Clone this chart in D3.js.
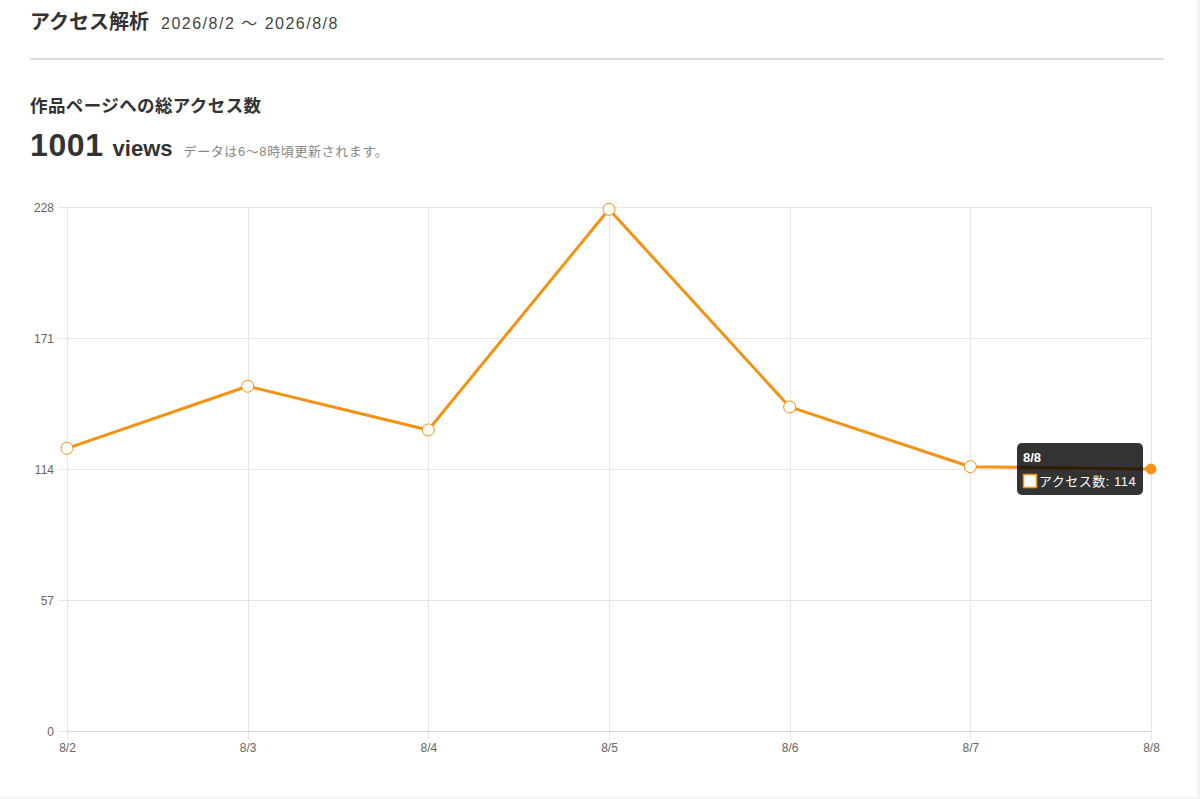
<!DOCTYPE html>
<html lang="ja">
<head>
<meta charset="utf-8">
<script src="https://cdn.jsdelivr.net/npm/d3@7"></script>
<style>
	html, body { margin: 0; padding: 0; background: #f2f2f2; }
	body { width: 1200px; height: 799px; overflow: hidden; }
	svg { display: block; }
	.jp { font-family: "Liberation Sans", "Noto Sans CJK JP", sans-serif; }
	.axis text { font-family: "Liberation Sans", Arial, sans-serif; font-size: 12px; fill: #666; }
</style>
</head>
<body>
<svg id="chart" width="1200" height="799"></svg>
<script>
const days = ["8/2", "8/3", "8/4", "8/5", "8/6", "8/7", "8/8"];
const views = [123, 150, 131, 227, 141, 115, 114];
const yTicks = [0, 57, 114, 171, 228];
const seriesName = "アクセス数";
const hoverIndex = 6;

const orange = "#f39213";
const svg = d3.select("#chart");

// white card
svg.append("rect").attr("width", 1197).attr("height", 797).attr("fill", "#fff");

// header
const head = svg.append("text").attr("class", "jp").attr("x", 30).attr("y", 29).attr("fill", "#333");
head.append("tspan").attr("font-size", 20).attr("font-weight", 700).text("アクセス解析");
head.append("tspan").attr("dx", 12).attr("font-size", 16).attr("letter-spacing", 1.5)
	.attr("fill", "#444").text("2026/8/2 〜 2026/8/8");

svg.append("line")
	.attr("x1", 30).attr("x2", 1164).attr("y1", 59).attr("y2", 59)
	.attr("stroke", "#dcdcdc").attr("stroke-width", 2);

svg.append("text").attr("class", "jp")
	.attr("x", 30).attr("y", 112).attr("font-size", 17.5).attr("letter-spacing", 0.4)
	.attr("font-weight", 700).attr("fill", "#333")
	.text("作品ページへの総アクセス数");

const total = svg.append("text").attr("class", "jp").attr("x", 30).attr("y", 156).attr("fill", "#333");
total.append("tspan").attr("font-size", 32).attr("letter-spacing", 0.6).attr("font-weight", 700).text(d3.sum(views));
total.append("tspan").attr("dx", 9).attr("font-size", 22).attr("font-weight", 700).text("views");
total.append("tspan").attr("dx", 11).attr("font-size", 13).attr("letter-spacing", 0.6)
	.attr("fill", "#888").text("データは6〜8時頃更新されます。");

// plot
const margin = { left: 67, right: 1151, top: 207, bottom: 731 };
const x = d3.scalePoint().domain(days).range([margin.left, margin.right]);
const y = d3.scaleLinear().domain([0, 228]).range([margin.bottom, margin.top]);

const grid = svg.append("g").attr("stroke", "#e6e6e6").attr("stroke-width", 1);
grid.selectAll("line.h").data(yTicks).join("line").attr("class", "h")
	.attr("x1", margin.left - 9).attr("x2", margin.right)
	.attr("y1", (d) => Math.round(y(d)) + 0.5).attr("y2", (d) => Math.round(y(d)) + 0.5);
grid.selectAll("line.v").data(days).join("line").attr("class", "v")
	.attr("x1", (d) => Math.round(x(d)) + 0.5).attr("x2", (d) => Math.round(x(d)) + 0.5)
	.attr("y1", margin.top).attr("y2", margin.bottom + 9);

svg.append("line")
	.attr("x1", margin.left).attr("x2", margin.right)
	.attr("y1", margin.bottom + 0.5).attr("y2", margin.bottom + 0.5)
	.attr("stroke", "#d6d6d6");

const yAxis = svg.append("g").attr("class", "axis")
	.attr("transform", `translate(${margin.left - 13},0)`)
	.call(d3.axisLeft(y).tickValues(yTicks).tickSize(0).tickPadding(0));
yAxis.select(".domain").remove();
yAxis.selectAll("text").attr("dy", "0.34em");

const xAxis = svg.append("g").attr("class", "axis")
	.attr("transform", `translate(0,${margin.bottom + 10})`)
	.call(d3.axisBottom(x).tickSize(0).tickPadding(0));
xAxis.select(".domain").remove();
xAxis.selectAll("text").attr("dy", "0.95em");

// line
const line = d3.line().x((d, i) => x(days[i])).y((d) => y(d));
svg.append("path").datum(views)
	.attr("d", line).attr("fill", "none")
	.attr("stroke", orange).attr("stroke-width", 3).attr("stroke-linejoin", "round");

svg.append("g").selectAll("circle").data(views).join("circle")
	.attr("cx", (d, i) => x(days[i])).attr("cy", (d) => y(d))
	.attr("r", (d, i) => (i === hoverIndex ? 5 : 6))
	.attr("fill", (d, i) => (i === hoverIndex ? orange : "#fff"))
	.attr("stroke", orange).attr("stroke-width", 1);

// tooltip
const tx = x(days[hoverIndex]) - 134;
const ty = y(views[hoverIndex]) - 26;
const tip = svg.append("g").attr("transform", `translate(${tx},${ty})`);
tip.append("rect").attr("width", 126).attr("height", 52).attr("rx", 5)
	.attr("fill", "rgba(0,0,0,0.8)");
tip.append("text").attr("x", 6).attr("y", 19)
	.attr("font-family", "Liberation Sans, Arial, sans-serif")
	.attr("font-size", 13).attr("font-weight", 700).attr("fill", "#fff")
	.text(days[hoverIndex]);
tip.append("rect").attr("x", 6.5).attr("y", 31.5).attr("width", 13).attr("height", 13)
	.attr("fill", "#fff").attr("stroke", orange).attr("stroke-width", 1.5);
tip.append("text").attr("class", "jp").attr("x", 22).attr("y", 43)
	.attr("font-size", 13).attr("letter-spacing", 0.5).attr("fill", "#fff")
	.text(`${seriesName}: ${views[hoverIndex]}`);
</script>
</body>
</html>
